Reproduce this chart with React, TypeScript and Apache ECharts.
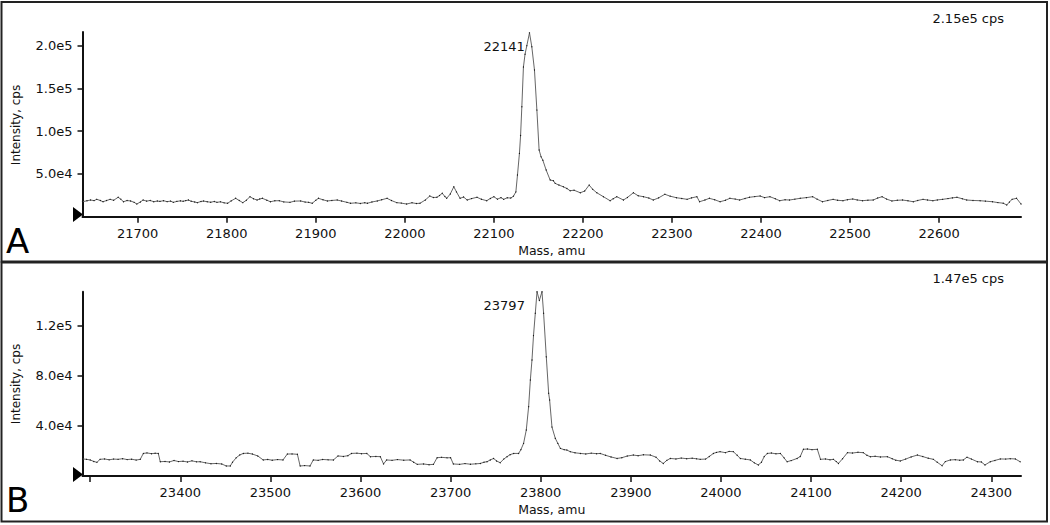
import React, { useEffect, useRef } from "react";
import * as echarts from "echarts";

// ---------- Panel A ----------
const A_X_RANGE = [21638, 22692];
const A_Y_MAX = 216000;
const A_X_TICKS = [21700, 21800, 21900, 22000, 22100, 22200, 22300, 22400, 22500, 22600];
const A_Y_TICKS = [50000, 100000, 150000, 200000];
const A_PEAK_LABEL = "22141";
const A_PEAK_MASS = 22140;
const A_MAX_TEXT = "2.15e5 cps";
const A_DATA: number[][] = [
  [21638, 17500], [21643, 18600], [21647, 19500], [21651, 18800], [21654, 20300], [21658, 19000],
  [21661, 17500], [21665, 18900], [21669, 20300], [21673, 19200], [21678, 22700], [21681, 20500],
  [21684, 17500], [21688, 18900], [21692, 18400], [21696, 16800], [21699, 14800], [21703, 17200],
  [21706, 19500], [21710, 18200], [21714, 19000], [21718, 17500], [21722, 18300], [21725, 17900],
  [21729, 18700], [21733, 17600], [21737, 18200], [21740, 16800], [21744, 17900], [21748, 18500],
  [21751, 18000], [21754, 18800], [21757, 19500], [21760, 18100], [21764, 17200], [21767, 16400],
  [21771, 17800], [21774, 18300], [21778, 17500], [21782, 16900], [21786, 17800], [21789, 16800],
  [21793, 17400], [21797, 16200], [21801, 15700], [21805, 18500], [21810, 21500], [21814, 19000],
  [21818, 16400], [21822, 19200], [21826, 23400], [21830, 21000], [21834, 19500], [21837, 20700],
  [21840, 21500], [21845, 19300], [21849, 17500], [21854, 18600], [21859, 18700], [21864, 17300],
  [21871, 16800], [21876, 18200], [21883, 18400], [21888, 17100], [21892, 16800], [21896, 15700],
  [21900, 19200], [21903, 21500], [21908, 19800], [21913, 18400], [21918, 19000], [21924, 19500],
  [21929, 18300], [21935, 16800], [21939, 15700], [21945, 16200], [21950, 15500], [21955, 16300],
  [21958, 15700], [21963, 17200], [21969, 18400], [21974, 19800], [21980, 21500], [21985, 18900],
  [21991, 16400], [21996, 15900], [22002, 14800], [22008, 16300], [22013, 15400], [22017, 15700],
  [22023, 19500], [22028, 24200], [22032, 22400], [22036, 22700], [22039, 24800], [22042, 27400],
  [22045, 23600], [22047, 21500], [22051, 26500], [22055, 35000], [22058, 29000], [22062, 21500],
  [22066, 23000], [22070, 19500], [22075, 21200], [22081, 22700], [22086, 20400], [22092, 18700],
  [22096, 21300], [22100, 23400], [22104, 20500], [22108, 22300], [22111, 20300], [22115, 22100],
  [22119, 21800], [22122, 24000], [22124.7, 29000], [22126.5, 48700], [22128.7, 74000], [22130, 95000],
  [22131.4, 128600], [22133.2, 175000], [22135, 190000], [22137, 200000], [22140, 215000],
  [22142.6, 198700], [22145.6, 171500], [22148.3, 124700], [22150.8, 78000], [22153, 70000],
  [22155, 66000], [22158.7, 54600], [22163.2, 42900], [22166.9, 42000], [22168.8, 39000],
  [22173, 37000], [22178, 35000], [22182, 33000], [22185.6, 30400], [22190, 31000], [22197, 28000],
  [22202, 30000], [22207, 37000], [22211, 32000], [22215.6, 28000], [22223, 23400], [22230.5, 18700],
  [22234, 21000], [22238, 23400], [22245.5, 19500], [22250, 22500], [22256.7, 28000], [22262, 24500],
  [22268, 23400], [22274, 21800], [22279, 19500], [22285, 22000], [22292, 26200], [22298, 24000],
  [22305, 22200], [22311, 21300], [22317, 20300], [22322, 22000], [22328, 23400], [22331, 17500],
  [22337, 19500], [22342, 21500], [22348, 19800], [22354, 17500], [22360, 19200], [22365, 21500],
  [22371, 20600], [22376, 19500], [22382, 21300], [22387, 22700], [22393, 23500], [22399, 24200],
  [22404, 22300], [22410, 23400], [22416, 21000], [22421, 18700], [22427, 19800], [22432, 19500],
  [22438, 20500], [22444, 21500], [22451, 22300], [22458, 23400], [22463, 20500], [22469, 17500],
  [22475, 19000], [22481, 20300], [22486, 19200], [22492, 18700], [22497, 19900], [22503, 20700],
  [22508, 19600], [22514, 18700], [22520, 19300], [22526, 19500], [22531, 21800], [22536, 23400],
  [22541, 20600], [22547, 18400], [22553, 19200], [22559, 19500], [22565, 18600], [22571, 17500],
  [22576, 19000], [22582, 20300], [22587, 19500], [22593, 18700], [22598, 19600], [22604, 20300],
  [22610, 21200], [22615, 22000], [22620, 22700], [22626, 21000], [22631, 19500], [22638, 19000],
  [22646, 18700], [22652, 18200], [22660, 17500], [22666, 16500], [22672, 15800], [22676, 13700],
  [22679, 17200], [22682, 20300], [22687, 21500], [22692, 14800],
];

// ---------- Panel B ----------
const B_X_RANGE = [23291.5, 24333];
const B_Y_MAX = 147000;
const B_X_TICKS = [23300, 23400, 23500, 23600, 23700, 23800, 23900, 24000, 24100, 24200, 24300];
const B_X_LABELS = [23400, 23500, 23600, 23700, 23800, 23900, 24000, 24100, 24200, 24300];
const B_Y_TICKS = [40000, 80000, 120000];
const B_PEAK_LABEL = "23797";
const B_PEAK_MASS = 23795.9;
const B_MAX_TEXT = "1.47e5 cps";
const B_DATA: number[][] = [
  [23291.6, 13600], [23296, 13300], [23300, 12800], [23304, 11600], [23307.5, 10900], [23311, 13300],
  [23316, 13600], [23321, 12900], [23326, 13500], [23331, 13300], [23336, 13800], [23341, 13100],
  [23346, 13400], [23351, 12700], [23355.6, 13300], [23359, 18000], [23363, 18400], [23368, 17800],
  [23372, 18100], [23375.6, 18000], [23377.8, 11400], [23383, 11600], [23388, 11200], [23393, 12400],
  [23398, 11500], [23403, 11800], [23408, 11200], [23413, 12100], [23418, 11300], [23422, 11400],
  [23428, 10500], [23434, 9800], [23440, 10000], [23446, 9600], [23451, 8000], [23455.5, 8000],
  [23458, 11000], [23462, 14500], [23466, 16800], [23470, 18000], [23475, 18200], [23480, 17500],
  [23486, 16000], [23492, 12800], [23497, 13200], [23502, 12600], [23508, 13100], [23514, 12800],
  [23518.8, 17500], [23524, 17600], [23530, 17300], [23533, 8000], [23538, 8300], [23544, 8000],
  [23547.6, 12800], [23553, 12500], [23558, 13200], [23564, 12900], [23570, 12800], [23575, 16000],
  [23581, 15600], [23586, 16200], [23590, 18000], [23596, 18200], [23601, 17800], [23607, 18000],
  [23611, 15400], [23617, 15600], [23622, 15400], [23625.6, 9600], [23629, 12800], [23635, 12500],
  [23641, 13100], [23648, 12600], [23655, 12800], [23659, 11000], [23663, 9300], [23670, 9600],
  [23676, 9000], [23681, 9300], [23685, 14600], [23690, 14900], [23696, 14500], [23700, 14600],
  [23703, 9600], [23710, 9300], [23716, 9900], [23722, 9400], [23728, 9700], [23733, 10000],
  [23737, 11000], [23740.4, 11400], [23744, 12800], [23747.7, 14000], [23751, 12000], [23755, 10600],
  [23759, 13500], [23762.6, 15400], [23766, 17000], [23770, 18000], [23775.5, 18000], [23778, 21000],
  [23781, 26000], [23784, 36700], [23786.6, 55300], [23788.5, 76600], [23790.3, 92500], [23792, 112000],
  [23794, 129800], [23795.9, 147000], [23798.5, 140000], [23801.4, 147000], [23803.2, 129800],
  [23806.2, 95000], [23808.8, 66000], [23809.9, 60600], [23812.5, 39000], [23816.2, 30000],
  [23819, 26000], [23821.8, 22000], [23826, 21000], [23829, 20700], [23832.8, 19400], [23838, 18500],
  [23844, 18000], [23850, 17600], [23856, 18200], [23862, 17800], [23866, 18000], [23872, 16500],
  [23878, 15200], [23884.7, 14000], [23890, 14600], [23896, 15900], [23902.8, 16700], [23908, 16200],
  [23914, 16900], [23921.6, 16700], [23928, 15000], [23932, 12000], [23936, 10000], [23940, 12500],
  [23943.8, 14000], [23950, 13600], [23956, 14300], [23962, 13800], [23968, 14200], [23973, 13700],
  [23977, 13300], [23983, 13500], [23987, 15500], [23991.6, 18000], [23995, 18800], [23999, 19400],
  [24005, 18600], [24009, 19600], [24013.8, 19400], [24018, 16500], [24021.5, 14000], [24027, 13400],
  [24032.6, 12800], [24037, 10500], [24041.5, 8800], [24045, 11000], [24048, 15500], [24051.5, 18000],
  [24056, 18300], [24061, 17700], [24066, 18000], [24070, 14500], [24073.4, 11400], [24078, 12300],
  [24084.5, 14000], [24088, 15500], [24091.5, 21300], [24096, 21500], [24101, 21000], [24107, 21300],
  [24110.5, 13300], [24116, 13600], [24121, 12900], [24124.8, 13300], [24128, 11500], [24130.4, 10000],
  [24135, 13800], [24140.4, 18600], [24146, 18300], [24152, 18900], [24158, 18600], [24162, 16500],
  [24165.8, 15400], [24171, 15700], [24177, 15200], [24184.7, 15400], [24190, 13800], [24194, 12600],
  [24199, 12000], [24205, 13500], [24211, 15200], [24218, 16700], [24224, 15500], [24230, 14200],
  [24235.7, 13300], [24240, 11000], [24245.4, 8200], [24249, 11500], [24254.6, 12800], [24260, 13000],
  [24265, 12600], [24269, 12800], [24273, 15000], [24278, 13500], [24284.6, 11400], [24289, 11200],
  [24293, 8800], [24298.9, 11400], [24304, 12400], [24310, 13600], [24316, 13500], [24321, 13800],
  [24326.7, 13600], [24332, 11400],
];

const X_NAME = "Mass, amu";
const Y_NAME = "Intensity, cps";
const PANEL_LETTERS = ["A", "B"];

const FONT = "DejaVu Sans";
const INK = "#111";

function expLabel(v: number) {
  return v.toExponential(1).replace("+", "");
}

function withPeakLabel(data: number[][], mass: number, text: string, dist: number, dy: number) {
  return data.map((p) =>
    p[0] === mass
      ? {
          value: p,
          label: {
            show: true,
            position: "left",
            distance: dist,
            offset: [0, dy],
            formatter: text,
            color: INK,
            fontSize: 13,
            fontFamily: FONT,
          },
        }
      : p
  );
}

export default function App() {
  const ref = useRef<HTMLDivElement>(null);

  useEffect(() => {
    if (!ref.current) return;
    const chart = echarts.init(ref.current, undefined, { renderer: "svg" });

    const xAxisBase = (idx: number, range: number[], ticks: number[], labels: number[]) => ({
      type: "value",
      gridIndex: idx,
      min: range[0],
      max: range[1],
      name: X_NAME,
      nameLocation: "middle",
      nameGap: 27,
      nameTextStyle: { color: INK, fontSize: 12.5, fontFamily: FONT },
      axisLine: { show: true, onZero: false, lineStyle: { color: INK, width: 2 } },
      axisTick: { show: true, length: 6, lineStyle: { color: INK, width: 1.5 }, customValues: ticks },
      axisLabel: {
        color: INK,
        fontSize: 13,
        fontFamily: FONT,
        margin: 10,
        customValues: labels,
        formatter: (v: number) => String(Math.round(v)),
      },
      splitLine: { show: false },
    });

    const yAxisBase = (idx: number, max: number, ticks: number[]) => ({
      type: "value",
      gridIndex: idx,
      min: 0,
      max,
      axisLine: { show: true, lineStyle: { color: INK, width: 2 } },
      axisTick: { show: true, length: 5, lineStyle: { color: INK, width: 1.5 }, customValues: ticks },
      axisLabel: {
        color: INK,
        fontSize: 13,
        fontFamily: FONT,
        margin: 10,
        customValues: ticks,
        formatter: (v: number) => expLabel(v),
      },
      splitLine: { show: false },
    });

    const lineSeries = (idx: number, data: any[]) => ({
      type: "line",
      xAxisIndex: idx,
      yAxisIndex: idx,
      data,
      showSymbol: true,
      symbol: "circle",
      symbolSize: 1.2,
      itemStyle: { color: "#111" },
      lineStyle: { color: "#555", width: 0.9 },
      silent: true,
      z: 3,
    });

    const option: any = {
      animation: false,
      textStyle: { fontFamily: FONT },
      grid: [
        { left: 82.5, right: 29, top: 32, height: 184.7 },
        { left: 82.5, right: 29, top: 291.7, height: 184.3 },
      ],
      xAxis: [
        xAxisBase(0, A_X_RANGE, A_X_TICKS, A_X_TICKS),
        xAxisBase(1, B_X_RANGE, B_X_TICKS, B_X_LABELS),
      ],
      yAxis: [yAxisBase(0, A_Y_MAX, A_Y_TICKS), yAxisBase(1, B_Y_MAX, B_Y_TICKS)],
      series: [
        lineSeries(0, withPeakLabel(A_DATA, A_PEAK_MASS, A_PEAK_LABEL, 4, 14)),
        lineSeries(1, withPeakLabel(B_DATA, B_PEAK_MASS, B_PEAK_LABEL, 11.5, 13.3)),
      ],
      graphic: [
        { type: "rect", shape: { x: 1.5, y: 2, width: 1045.5, height: 259.5 }, style: { fill: "none", stroke: "#222", lineWidth: 2 }, silent: true },
        { type: "rect", shape: { x: 1.5, y: 262.5, width: 1045.5, height: 259 }, style: { fill: "none", stroke: "#222", lineWidth: 2 }, silent: true },
        { type: "polygon", shape: { points: [[73, 207], [83, 214.5], [73, 222]] }, style: { fill: "#000" }, silent: true },
        { type: "polygon", shape: { points: [[73, 467], [83, 474.5], [73, 482]] }, style: { fill: "#000" }, silent: true },
        { type: "text", x: 16, y: 125, rotation: Math.PI / 2, style: { text: Y_NAME, fill: INK, fontSize: 12, fontFamily: FONT, align: "center", verticalAlign: "middle" }, silent: true },
        { type: "text", x: 16, y: 384, rotation: Math.PI / 2, style: { text: Y_NAME, fill: INK, fontSize: 12, fontFamily: FONT, align: "center", verticalAlign: "middle" }, silent: true },
        { type: "text", x: 1004, y: 18.3, style: { text: A_MAX_TEXT, fill: INK, fontSize: 13, fontFamily: FONT, align: "right", verticalAlign: "middle" }, silent: true },
        { type: "text", x: 1004, y: 278.3, style: { text: B_MAX_TEXT, fill: INK, fontSize: 13, fontFamily: FONT, align: "right", verticalAlign: "middle" }, silent: true },
        { type: "text", x: 6, y: 241, style: { text: PANEL_LETTERS[0], fill: "#000", fontSize: 34, fontFamily: FONT, align: "left", verticalAlign: "middle" }, silent: true },
        { type: "text", x: 6, y: 500, style: { text: PANEL_LETTERS[1], fill: "#000", fontSize: 34, fontFamily: FONT, align: "left", verticalAlign: "middle" }, silent: true },
      ],
    };

    chart.setOption(option);
    return () => chart.dispose();
  }, []);

  return (
    <div
      ref={ref}
      style={{ position: "fixed", left: 0, top: 0, width: 1050, height: 525, background: "#fff" }}
    />
  );
}
